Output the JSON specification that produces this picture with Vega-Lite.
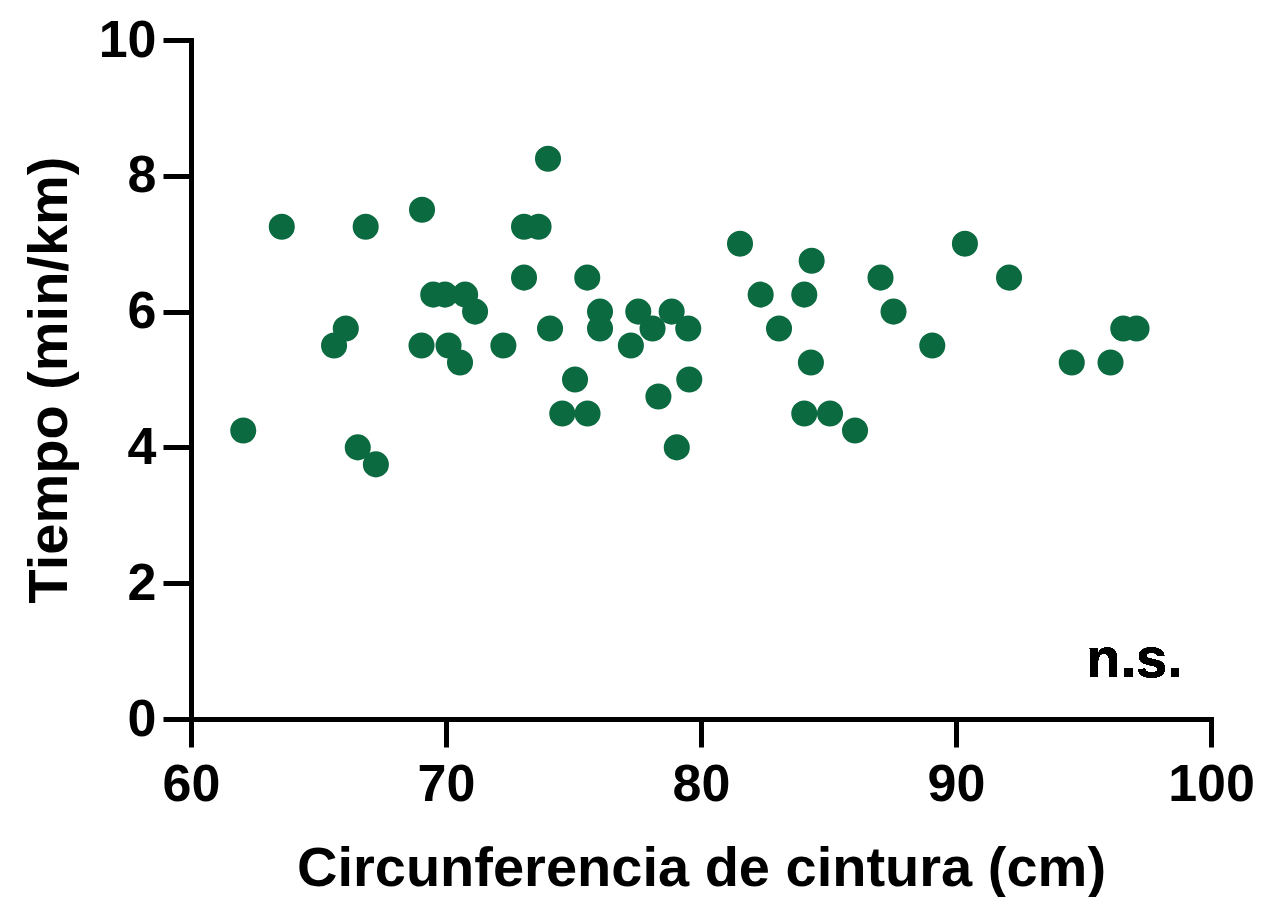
{
  "$schema": "https://vega.github.io/schema/vega-lite/v6.json",
  "autosize": "none",
  "width": 1020,
  "height": 679,
  "padding": {"left": 191, "top": 40, "right": 50, "bottom": 178},
  "background": "white",
  "config": {
    "view": {"stroke": null},
    "font": "Liberation Sans",
    "axis": {
      "grid": false,
      "domainColor": "black",
      "domainWidth": 5,
      "domainCap": "square",
      "tickColor": "black",
      "tickWidth": 5,
      "tickSize": 28,
      "labelFont": "Liberation Sans",
      "labelFontWeight": "bold",
      "labelFontSize": 52,
      "labelColor": "black",
      "titleFont": "Liberation Sans",
      "titleFontWeight": "bold",
      "titleFontSize": 56,
      "titleColor": "black"
    }
  },
  "data": {
    "values": [
      {"cintura": 62.05, "tiempo": 4.25},
      {"cintura": 63.56, "tiempo": 7.25},
      {"cintura": 65.61, "tiempo": 5.5},
      {"cintura": 66.07, "tiempo": 5.75},
      {"cintura": 66.54, "tiempo": 4.0},
      {"cintura": 66.85, "tiempo": 7.25},
      {"cintura": 67.25, "tiempo": 3.75},
      {"cintura": 69.06, "tiempo": 7.5},
      {"cintura": 69.04, "tiempo": 5.5},
      {"cintura": 69.5, "tiempo": 6.25},
      {"cintura": 69.96, "tiempo": 6.25},
      {"cintura": 70.1, "tiempo": 5.5},
      {"cintura": 70.55, "tiempo": 5.25},
      {"cintura": 70.75, "tiempo": 6.25},
      {"cintura": 71.14, "tiempo": 6.0},
      {"cintura": 72.25, "tiempo": 5.5},
      {"cintura": 73.06, "tiempo": 7.25},
      {"cintura": 73.63, "tiempo": 7.25},
      {"cintura": 73.06, "tiempo": 6.5},
      {"cintura": 74.0, "tiempo": 8.25},
      {"cintura": 74.08, "tiempo": 5.75},
      {"cintura": 74.56, "tiempo": 4.5},
      {"cintura": 75.06, "tiempo": 5.0},
      {"cintura": 75.54, "tiempo": 6.5},
      {"cintura": 75.55, "tiempo": 4.5},
      {"cintura": 76.04, "tiempo": 6.0},
      {"cintura": 76.04, "tiempo": 5.75},
      {"cintura": 77.25, "tiempo": 5.5},
      {"cintura": 77.54, "tiempo": 6.0},
      {"cintura": 78.1, "tiempo": 5.75},
      {"cintura": 78.33, "tiempo": 4.75},
      {"cintura": 78.85, "tiempo": 6.0},
      {"cintura": 79.05, "tiempo": 4.0},
      {"cintura": 79.5, "tiempo": 5.75},
      {"cintura": 79.54, "tiempo": 5.0},
      {"cintura": 81.53, "tiempo": 7.0},
      {"cintura": 82.34, "tiempo": 6.25},
      {"cintura": 83.06, "tiempo": 5.75},
      {"cintura": 84.05, "tiempo": 6.25},
      {"cintura": 84.05, "tiempo": 4.5},
      {"cintura": 84.31, "tiempo": 5.25},
      {"cintura": 84.34, "tiempo": 6.75},
      {"cintura": 85.06, "tiempo": 4.5},
      {"cintura": 86.04, "tiempo": 4.25},
      {"cintura": 87.04, "tiempo": 6.5},
      {"cintura": 87.55, "tiempo": 6.0},
      {"cintura": 89.07, "tiempo": 5.5},
      {"cintura": 90.35, "tiempo": 7.0},
      {"cintura": 92.08, "tiempo": 6.5},
      {"cintura": 94.54, "tiempo": 5.25},
      {"cintura": 96.06, "tiempo": 5.25},
      {"cintura": 96.56, "tiempo": 5.75},
      {"cintura": 97.08, "tiempo": 5.75}
    ]
  },
  "layer": [
    {
      "mark": {"type": "point", "filled": true, "shape": "circle", "size": 680, "opacity": 1, "color": "#0c6a40"},
      "encoding": {
        "x": {
          "field": "cintura",
          "type": "quantitative",
          "title": "Circunferencia de cintura (cm)",
          "scale": {"domain": [60, 100], "nice": false, "zero": false},
          "axis": {"values": [60, 70, 80, 90, 100], "format": "d", "labelPadding": 12, "titlePadding": 31, "labelFlush": false}
        },
        "y": {
          "field": "tiempo",
          "type": "quantitative",
          "title": "Tiempo (min/km)",
          "scale": {"domain": [0, 10], "nice": false},
          "axis": {"values": [0, 2, 4, 6, 8, 10], "format": "d", "labelPadding": 7, "titlePadding": 20, "labelFlush": false}
        }
      }
    },
    {
      "mark": {"type": "text", "text": "n.s.", "font": "Liberation Sans", "fontWeight": "bold", "fontSize": 56, "color": "black", "align": "center", "baseline": "alphabetic"},
      "encoding": {
        "x": {"datum": 97.0, "type": "quantitative"},
        "y": {"datum": 0.62, "type": "quantitative"}
      }
    }
  ]
}
